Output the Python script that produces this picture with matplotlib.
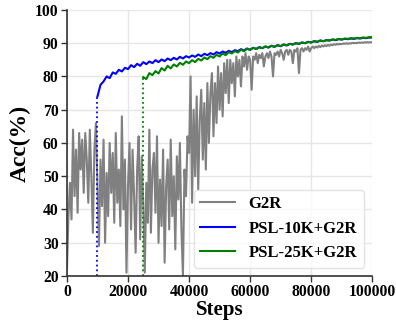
import numpy as np
import matplotlib
matplotlib.use("Agg")
import matplotlib.pyplot as plt

# G2R accuracy, sampled every 500 steps from 0 to 100000
g2r = [22, 38, 48, 37, 64, 44, 58, 39, 63, 52, 61, 45, 63, 55, 42, 64, 50, 33, 58, 66,
       47, 29, 55, 41, 61, 30, 51, 38, 60, 45, 57, 36, 63, 42, 52, 35, 68, 40, 55, 21,
       47, 60, 34, 58, 44, 27, 52, 62, 31, 56, 42, 21, 48, 36, 64, 33, 52, 57, 39, 62,
       30, 49, 35, 58, 24, 47, 55, 34, 61, 38, 50, 28, 56, 43, 60, 34, 20, 52, 44, 62,
       57,
       80, 42, 70, 50, 74, 46, 67, 76, 55, 72, 52, 78, 60, 75, 81, 62, 78, 66, 83, 70,
       81, 68, 84, 75, 85, 72, 85, 78, 84, 74, 86, 80, 85, 77, 86, 83, 87, 82, 86, 85,
       76, 86, 85, 87, 84, 86.5, 85.5, 87, 83, 86, 87, 85.5, 87.5, 86, 80, 87, 86.5, 87.5, 86, 88,
       87, 85, 87.5, 88, 86.5, 88, 87.5, 84, 88, 87.5, 88.5, 81, 88, 88.5, 87.5, 88.5, 88, 89, 87.5, 88.5,
       89, 88.5, 89, 88.7, 89.2, 88.8, 89.3, 89, 89.4, 89.1, 89.5, 89.2, 89.6, 89.4, 89.7, 89.5, 89.8, 89.6, 89.8, 89.7,
       89.9, 89.8, 90.0, 89.8, 90.0, 89.9, 90.1, 90.0, 90.1, 90.0, 90.2, 90.1, 90.2, 90.1, 90.3, 90.2, 90.3, 90.2, 90.3, 90.3]

# PSL-10K+G2R, every 1000 steps from 10000
psl10 = [74.0, 77.5, 78.5, 80.0, 79.5, 81.2, 80.8, 82.0, 81.5, 82.6, 82.2, 83.4, 82.8, 83.8, 83.2,
         84.3, 83.7, 84.5, 84.0, 84.9, 84.3, 85.1, 84.6, 85.4, 84.9, 85.6, 85.1, 85.9, 85.4, 86.1,
         85.7, 86.3, 85.9, 86.6, 86.1, 86.8, 86.4, 87.0, 86.6, 87.3, 86.9, 87.5, 87.1, 87.7, 87.3,
         87.9, 87.6, 88.2, 87.8, 88.4, 88.0, 88.6, 88.3, 88.8, 88.5, 89.0, 88.7, 89.2, 88.9, 89.4,
         89.1, 89.6, 89.3, 89.8, 89.6, 90.0, 89.8, 90.2, 90.0, 90.4, 90.2, 90.6, 90.4, 90.8, 90.6,
         90.9, 90.8, 91.1, 90.9, 91.2, 91.1, 91.3, 91.2, 91.4, 91.3, 91.5, 91.4, 91.6, 91.5, 91.7, 91.7]

# PSL-25K+G2R, every 1000 steps from 25000
psl25 = [79.8, 79.2, 81.0, 80.4, 81.6, 80.9, 82.5, 81.8, 83.2, 82.4, 83.6, 83.0, 84.1, 83.5, 84.5,
         84.0, 84.9, 84.3, 85.3, 84.8, 85.7, 85.2, 86.1, 85.6, 86.5, 86.0, 86.9, 86.4, 87.3, 86.9,
         87.6, 87.2, 88.0, 87.6, 88.3, 88.0, 88.6, 88.2, 88.8, 88.5, 89.0, 88.7, 89.2, 88.9, 89.4,
         89.1, 89.6, 89.4, 89.8, 89.6, 90.0, 89.8, 90.2, 90.0, 90.4, 90.2, 90.6, 90.4, 90.8, 90.6,
         90.9, 90.8, 91.1, 91.0, 91.3, 91.1, 91.4, 91.3, 91.5, 91.4, 91.6, 91.5, 91.7, 91.6, 91.8, 91.8]

start10 = 10000
start25 = 25000

x_g2r = np.linspace(0, 100000, len(g2r))
x_10 = np.linspace(start10, 100000, len(psl10))
x_25 = np.linspace(start25, 100000, len(psl25))

plt.rcParams['font.family'] = ['Liberation Serif', 'DejaVu Serif']
plt.rcParams['font.weight'] = 'bold'

fig = plt.figure(figsize=(3.96, 3.2), dpi=100)
ax = fig.add_axes([0.169, 0.1375, 0.771, 0.8315])

ax.plot(x_g2r, g2r, color='gray', lw=1.5, label='G2R')
ax.plot(x_10, psl10, color='blue', lw=1.5, label='PSL-10K+G2R')
ax.plot(x_25, psl25, color='green', lw=1.5, label='PSL-25K+G2R')
ax.plot([start10, start10], [20, psl10[0]], color='blue', ls=':', lw=1.3)
ax.plot([start25, start25], [20, psl25[0]], color='green', ls=':', lw=1.3)

ax.set_xlim(0, 100000)
ax.set_ylim(20, 100)
ax.set_xticks([0, 20000, 40000, 60000, 80000, 100000])
ax.set_yticks(range(20, 101, 10))
ax.grid(color='#e6e6e6', lw=1)
ax.set_axisbelow(True)
for s in ['top', 'right']:
    ax.spines[s].set_visible(False)
for s in ['left', 'bottom']:
    ax.spines[s].set_color('#333333')
    ax.spines[s].set_linewidth(1.2)
ax.tick_params(labelsize=11.3, length=4, width=1, color='#333333', pad=2)
for t in ax.get_xticklabels() + ax.get_yticklabels():
    t.set_fontweight('bold')
ax.set_xlabel('Steps', fontsize=15, fontweight='bold', labelpad=0)
ax.set_ylabel('Acc(%)', fontsize=17, fontweight='bold', labelpad=3)
leg = ax.legend(loc='lower right', fontsize=12, frameon=True, handlelength=2.1,
                handletextpad=0.8)
leg.get_frame().set_edgecolor('#dddddd')
for t in leg.get_texts():
    t.set_fontweight('bold')

fig.savefig('out.png', dpi=100)
